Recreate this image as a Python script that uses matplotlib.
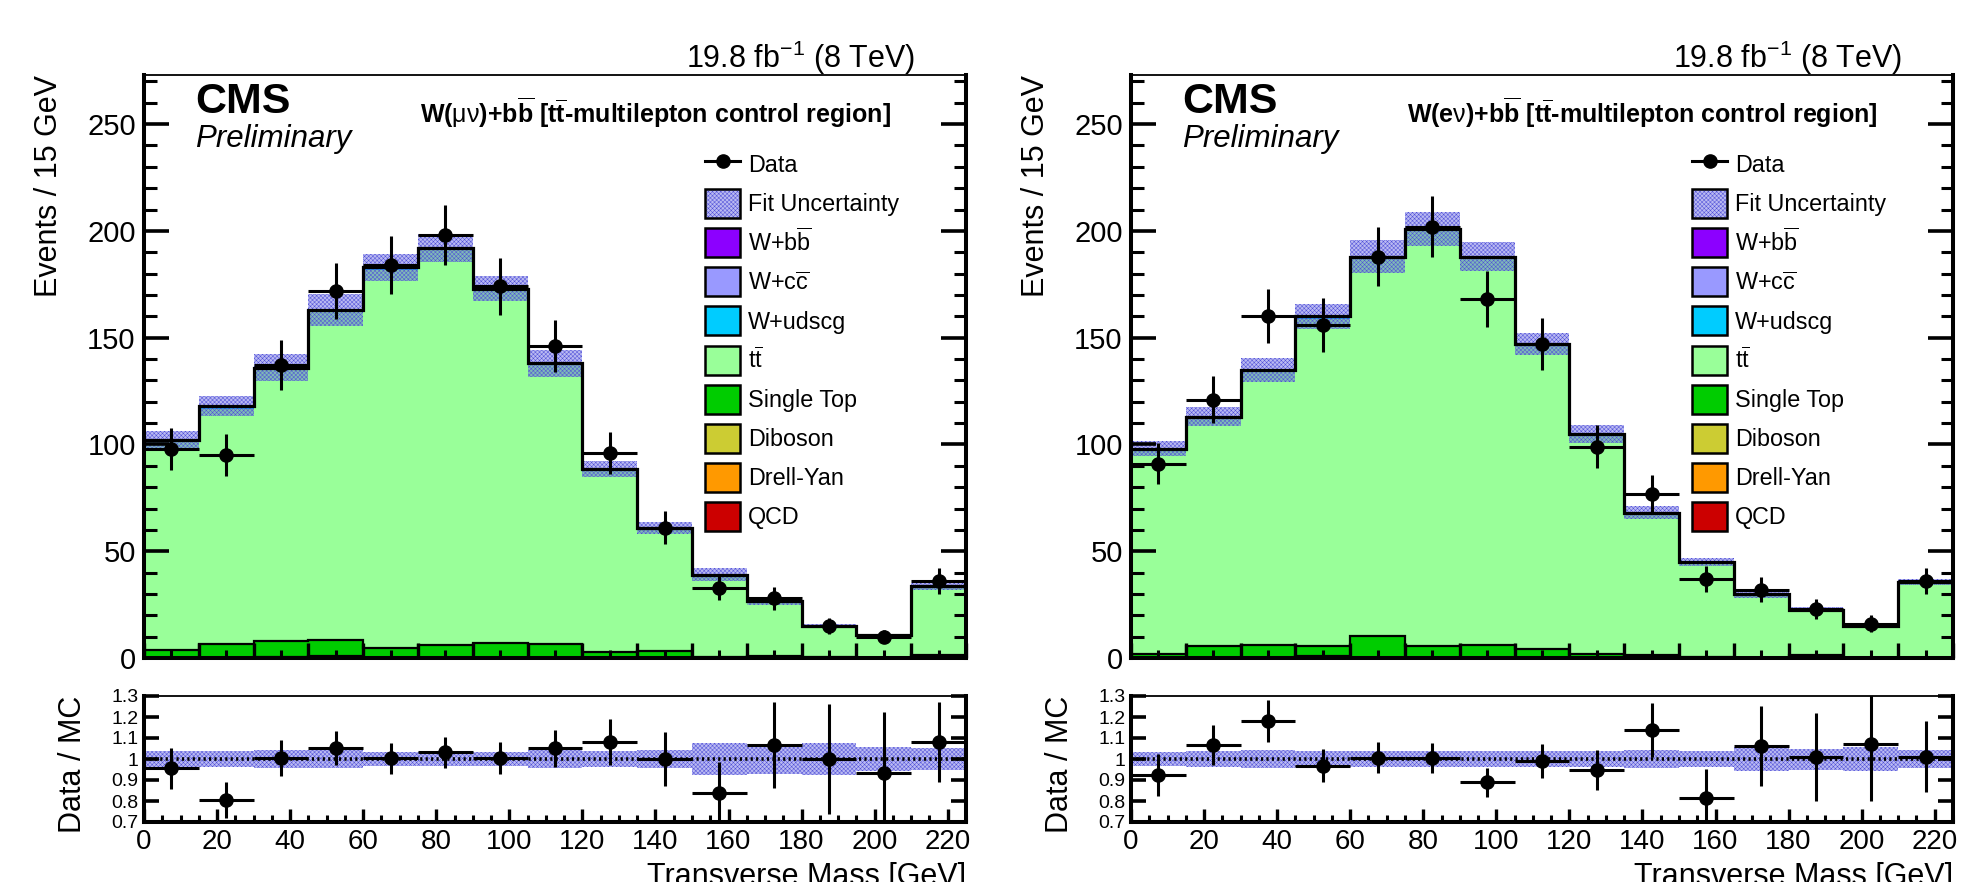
import numpy as np
import matplotlib
matplotlib.use("Agg")
import matplotlib.pyplot as plt
from matplotlib.patches import Patch
from matplotlib.lines import Line2D
from matplotlib.legend_handler import HandlerTuple
from matplotlib.ticker import MultipleLocator, FixedLocator, NullFormatter

plt.rcParams['font.family'] = ['Liberation Sans', 'DejaVu Sans']
plt.rcParams['mathtext.fontset'] = 'custom'
plt.rcParams['mathtext.rm'] = 'Liberation Sans'
plt.rcParams['mathtext.it'] = 'Liberation Sans:italic'
plt.rcParams['mathtext.bf'] = 'Liberation Sans:bold'
plt.rcParams['hatch.linewidth'] = 0.35

# ---------------- data ----------------
bin_edges = [0, 15, 30, 45, 60, 75, 90, 105, 120, 135, 150, 165, 180, 195, 210, 225]

# muon channel (left)
data_mu = [98, 95, 137, 172, 184, 198, 174, 146, 96, 61, 33, 28, 15, 10, 36]
data_err_mu = [9.9, 9.7, 11.7, 13.1, 13.6, 14.1, 13.2, 12.1, 9.8, 7.8, 5.7, 5.3, 3.9, 3.2, 6.0]
qcd_mu = [0.0, 0.0, 0.0, 0.0, 0.0, 0.0, 0.0, 0.0, 0.0, 0.0, 0.0, 0.0, 0.0, 0.0, 0.0]
dy_mu = [0.0, 0.0, 0.3, 1.0, 0.0, 0.0, 0.0, 0.0, 0.0, 0.0, 0.0, 0.0, 0.0, 0.0, 0.0]
vv_mu = [0.2, 0.3, 0.2, 0.3, 0.2, 0.3, 0.2, 0.2, 0.1, 0.1, 0.1, 0.1, 0.0, 0.0, 0.1]
st_mu = [3.6, 6.1, 7.3, 7.1, 4.6, 5.7, 6.7, 6.2, 2.5, 3.0, 0.2, 0.7, 0.3, 0.2, 1.2]
tt_mu = [97.3, 110.4, 127.1, 153.5, 177.0, 184.9, 165.3, 130.9, 85.4, 57.4, 38.4, 25.5, 14.5, 10.5, 31.9]
wudscg_mu = [0.4, 0.5, 0.6, 0.4, 0.5, 0.4, 0.3, 0.3, 0.2, 0.2, 0.1, 0.1, 0.1, 0.1, 0.1]
wcc_mu = [0.2, 0.3, 0.2, 0.2, 0.3, 0.2, 0.2, 0.1, 0.1, 0.1, 0.1, 0.0, 0.0, 0.0, 0.1]
wbb_mu = [0.3, 0.4, 0.3, 0.5, 0.4, 0.5, 0.3, 0.3, 0.2, 0.2, 0.1, 0.1, 0.1, 0.0, 0.1]
fit_rel_unc_mu = [0.04, 0.04, 0.045, 0.045, 0.035, 0.035, 0.035, 0.045, 0.04, 0.045, 0.077, 0.07, 0.077, 0.057, 0.053]
ratio_mu = [0.956, 0.805, 1.006, 1.051, 1.003, 1.032, 1.003, 1.051, 1.082, 1.0, 0.837, 1.067, 1.0, 0.932, 1.082]
ratio_err_mu = [0.097, 0.085, 0.086, 0.080, 0.074, 0.073, 0.076, 0.088, 0.11, 0.128, 0.147, 0.205, 0.26, 0.29, 0.19]

# electron channel (right)
data_e = [91, 121, 160, 156, 188, 202, 168, 147, 99, 77, 37, 32, 23, 16, 36]
data_err_e = [9.5, 11.0, 12.6, 12.5, 13.7, 14.2, 13.0, 12.1, 9.9, 8.8, 6.1, 5.7, 4.8, 4.0, 6.0]
qcd_e = [0.0, 0.0, 0.0, 0.0, 0.0, 0.0, 0.0, 0.0, 0.0, 0.0, 0.0, 0.0, 0.0, 0.0, 0.0]
dy_e = [0.0, 0.0, 0.0, 0.8, 0.0, 0.0, 0.0, 0.0, 0.0, 0.0, 0.0, 0.0, 0.0, 0.0, 0.0]
vv_e = [0.2, 0.2, 0.3, 0.2, 0.3, 0.2, 0.3, 0.2, 0.1, 0.1, 0.1, 0.0, 0.1, 0.0, 0.0]
st_e = [1.7, 5.3, 6.0, 4.8, 9.8, 5.6, 6.0, 3.8, 1.8, 1.1, 0.3, 0.2, 1.1, 0.1, 0.2]
tt_e = [95.2, 106.4, 127.5, 152.9, 176.7, 194.0, 180.7, 142.2, 102.6, 66.3, 44.3, 29.6, 21.3, 14.6, 35.0]
wudscg_e = [0.4, 0.5, 0.5, 0.6, 0.4, 0.5, 0.4, 0.3, 0.2, 0.2, 0.1, 0.1, 0.1, 0.1, 0.1]
wcc_e = [0.2, 0.2, 0.3, 0.2, 0.3, 0.3, 0.2, 0.2, 0.1, 0.1, 0.1, 0.0, 0.0, 0.0, 0.1]
wbb_e = [0.3, 0.4, 0.4, 0.5, 0.5, 0.4, 0.4, 0.3, 0.2, 0.2, 0.1, 0.1, 0.1, 0.0, 0.1]
fit_rel_unc_e = [0.035, 0.04, 0.042, 0.036, 0.04, 0.04, 0.036, 0.036, 0.04, 0.045, 0.04, 0.057, 0.05, 0.058, 0.042]
ratio_e = [0.924, 1.067, 1.181, 0.968, 1.006, 1.003, 0.889, 0.99, 0.948, 1.138, 0.816, 1.063, 1.011, 1.07, 1.011]
ratio_err_e = [0.1, 0.097, 0.1, 0.078, 0.073, 0.071, 0.069, 0.082, 0.095, 0.13, 0.135, 0.19, 0.21, 0.27, 0.17]

legend_labels = ['Data', 'Fit Uncertainty', r'W+b$\overline{\mathrm{b}}$', r'W+c$\overline{\mathrm{c}}$',
                 'W+udscg', r't$\overline{\mathrm{t}}$', 'Single Top', 'Diboson', 'Drell-Yan', 'QCD']
titles = [r'W($\mathrm{\mu\nu}$)+b$\overline{\mathbf{b}}$ [t$\overline{\mathbf{t}}$-multilepton control region]',
          r'W(e$\mathrm{\nu}$)+b$\overline{\mathbf{b}}$ [t$\overline{\mathbf{t}}$-multilepton control region]']

# ---------------- style ----------------
col = {'wbb': '#8C00FF', 'wcc': '#9999FF', 'wudscg': '#00CCFF', 'tt': '#99FF99',
       'st': '#00CC00', 'vv': '#CCCC33', 'dy': '#FF9900', 'qcd': '#CC0000'}
band_face = (0.36, 0.36, 0.88, 0.42)
band_hatch_col = '#5050D8'
band_hatch = 'xxxxxxxx'

W, H = 1966, 882
fig = plt.figure(figsize=(W / 100, H / 100), dpi=100)

edges = np.array(bin_edges, dtype=float)
centers = 0.5 * (edges[:-1] + edges[1:])
halfw = 0.5 * np.diff(edges)


def style_spines(ax):
    for s in ['left', 'right', 'bottom']:
        ax.spines[s].set_linewidth(2.9)
    ax.spines['top'].set_linewidth(1.3)


def draw(ax, rax, comps, data, derr, rel, ratio, rerr, title):
    order = ['qcd', 'dy', 'vv', 'st', 'tt', 'wudscg', 'wcc', 'wbb']
    base = np.zeros(len(centers))
    for k in order:
        top = base + np.array(comps[k], dtype=float)
        ax.stairs(top, edges, baseline=base, fill=True, facecolor=col[k], lw=0, zorder=1)
        base = top
    base = np.zeros(len(centers))
    for k in order:
        top = base + np.array(comps[k], dtype=float)
        if k in ('st', 'dy'):
            ax.stairs(top, edges, baseline=None, color='k', lw=1.6, zorder=1.2)
        base = top
    total = base
    rel = np.array(rel)
    ax.stairs(total * (1 + rel), edges, baseline=total * (1 - rel), fill=True,
              facecolor=band_face, edgecolor=band_hatch_col, hatch=band_hatch, lw=0, zorder=1.5)
    ax.stairs(total, edges, baseline=None, color='k', lw=2.3, zorder=1.8)
    ax.errorbar(centers, data, yerr=derr, xerr=halfw, fmt='o', color='k', ms=9.5,
                elinewidth=2.2, capsize=0, zorder=5)

    ax.set_xlim(edges[0], edges[-1])
    ax.set_ylim(0, 273)
    ax.xaxis.set_major_locator(MultipleLocator(15))
    ax.xaxis.set_minor_locator(MultipleLocator(7.5))
    ax.xaxis.set_major_formatter(NullFormatter())
    ax.yaxis.set_major_locator(MultipleLocator(50))
    ax.yaxis.set_minor_locator(MultipleLocator(10))
    ax.tick_params(axis='both', which='both', direction='in', top=False, right=True)
    ax.tick_params(axis='y', which='major', length=18, width=2.6, labelsize=21, pad=6)
    ax.tick_params(axis='y', which='minor', length=9, width=2.2)
    ax.tick_params(axis='x', which='major', length=10.5, width=2.4)
    ax.tick_params(axis='x', which='minor', length=5.5, width=2.2)
    style_spines(ax)

    ax.text(-0.1156, 1.0, 'Events / 15 GeV', rotation=90, ha='right', va='center',
            rotation_mode='anchor', fontsize=22, transform=ax.transAxes)
    ax.text(0.938, 1.0115, r'19.8 fb$^{-1}$ (8 TeV)', ha='right', va='baseline',
            fontsize=22, transform=ax.transAxes)
    ax.text(0.0623, 0.935, 'CMS', fontweight='bold', fontsize=31, va='baseline',
            transform=ax.transAxes)
    ax.text(0.0623, 0.8765, 'Preliminary', style='italic', fontsize=22.5, va='baseline',
            transform=ax.transAxes)
    ax.text(0.336, 0.9177, title, fontweight='bold', fontsize=18, va='baseline',
            transform=ax.transAxes)

    handles = [Line2D([0], [0], color='k', marker='o', ms=9.5, lw=2.2),
               (Patch(facecolor='white', edgecolor='none', lw=0),
                Patch(facecolor=band_face, edgecolor=band_hatch_col, hatch=band_hatch, lw=0),
                Patch(facecolor='none', edgecolor='k', lw=1.8))]
    for k in ['wbb', 'wcc', 'wudscg', 'tt', 'st', 'vv', 'dy', 'qcd']:
        handles.append(Patch(facecolor=col[k], edgecolor='k', lw=1.8))
    ax.legend(handles, legend_labels, loc='upper left', bbox_to_anchor=(0.6825, 0.872),
              bbox_transform=ax.transAxes, frameon=False, fontsize=16.8, handlelength=1.5,
              handleheight=1.537, labelspacing=0.43, handletextpad=0.34, borderpad=0,
              borderaxespad=0, handler_map={tuple: HandlerTuple(ndivide=1, pad=0)})

    # ratio panel
    rax.stairs(1 + rel, edges, baseline=1 - rel, fill=True, facecolor=band_face,
               edgecolor=band_hatch_col, hatch=band_hatch, lw=0, zorder=1.5)
    rax.axhline(1.0, color='k', lw=2.6, ls=(0, (0.6, 0.9)), zorder=2)
    rax.errorbar(centers, ratio, yerr=rerr, xerr=halfw, fmt='o', color='k', ms=9.5,
                 elinewidth=2.2, capsize=0, zorder=5)
    rax.set_xlim(edges[0], edges[-1])
    rax.set_ylim(0.7, 1.3)
    rax.xaxis.set_major_locator(MultipleLocator(20))
    rax.xaxis.set_minor_locator(MultipleLocator(5))
    rax.yaxis.set_major_locator(FixedLocator([0.7, 0.8, 0.9, 1.0, 1.1, 1.2, 1.3]))
    rax.set_yticklabels(['0.7', '0.8', '0.9', '1', '1.1', '1.2', '1.3'])
    rax.tick_params(axis='both', which='both', direction='in', top=False, right=True)
    rax.tick_params(axis='y', which='major', length=11, width=2.6, labelsize=14, pad=4)
    rax.tick_params(axis='x', which='major', length=9.5, width=2.4, labelsize=20, pad=5)
    rax.tick_params(axis='x', which='minor', length=5, width=2.2)
    style_spines(rax)
    rax.text(-0.0864, 1.0, 'Data / MC', rotation=90, ha='right', va='center',
             rotation_mode='anchor', fontsize=22, transform=rax.transAxes)
    rax.text(1.0, -0.5, 'Transverse Mass [GeV]', ha='right', va='baseline', fontsize=22,
             transform=rax.transAxes)


panels = [
    (144, dict(qcd=qcd_mu, dy=dy_mu, vv=vv_mu, st=st_mu, tt=tt_mu, wudscg=wudscg_mu, wcc=wcc_mu, wbb=wbb_mu),
     data_mu, data_err_mu, fit_rel_unc_mu, ratio_mu, ratio_err_mu, titles[0]),
    (1131, dict(qcd=qcd_e, dy=dy_e, vv=vv_e, st=st_e, tt=tt_e, wudscg=wudscg_e, wcc=wcc_e, wbb=wbb_e),
     data_e, data_err_e, fit_rel_unc_e, ratio_e, ratio_err_e, titles[1]),
]
for x0, comps, d, de, rel, r, re, t in panels:
    ax = fig.add_axes([x0 / W, 1 - 658 / H, 822 / W, 583 / H])
    rax = fig.add_axes([x0 / W, 1 - 822 / H, 822 / W, 126 / H])
    draw(ax, rax, comps, d, de, rel, r, re, t)

fig.savefig('out.png', dpi=100)
